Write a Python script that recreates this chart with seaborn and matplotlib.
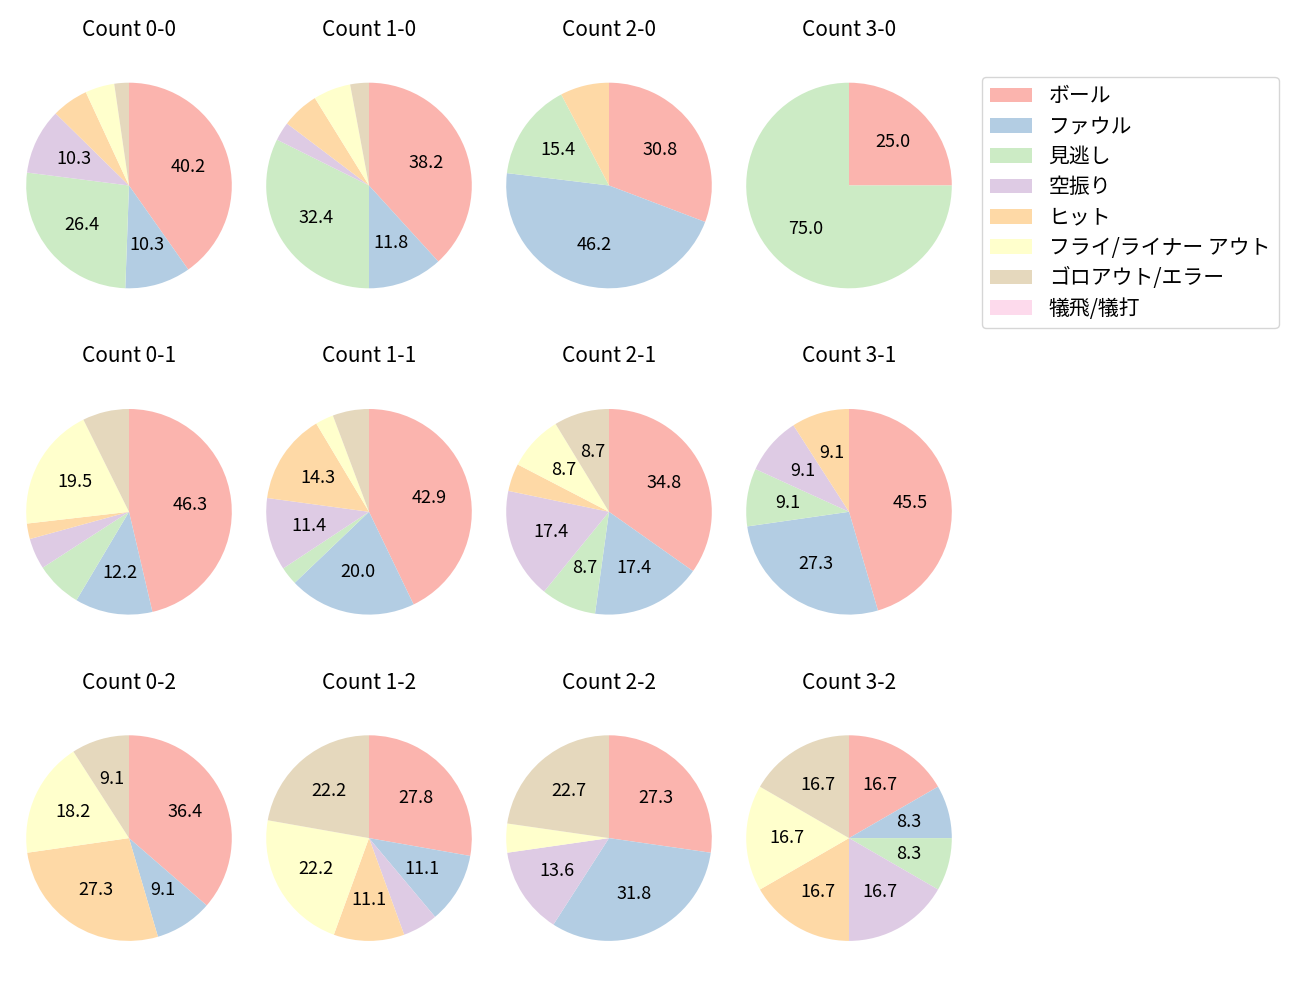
import matplotlib
matplotlib.use("Agg")
import matplotlib.pyplot as plt
import seaborn as sns
from matplotlib.patches import Patch

sns.set_style("white", {"text.color": "black"})
plt.rcParams['font.family'] = ['Noto Sans CJK JP', 'DejaVu Sans']
plt.rcParams['text.color'] = 'black'

categories = ["ボール", "ファウル", "見逃し", "空振り", "ヒット",
              "フライ/ライナー アウト", "ゴロアウト/エラー", "犠飛/犠打"]

titles = ["Count 0-0", "Count 1-0", "Count 2-0", "Count 3-0",
          "Count 0-1", "Count 1-1", "Count 2-1", "Count 3-1",
          "Count 0-2", "Count 1-2", "Count 2-2", "Count 3-2"]

count_0_0 = [35, 9, 23, 9, 5, 4, 2, 0]
count_1_0 = [13, 4, 11, 1, 2, 2, 1, 0]
count_2_0 = [4, 6, 2, 0, 1, 0, 0, 0]
count_3_0 = [1, 0, 3, 0, 0, 0, 0, 0]
count_0_1 = [19, 5, 3, 2, 1, 8, 3, 0]
count_1_1 = [15, 7, 1, 4, 5, 1, 2, 0]
count_2_1 = [8, 4, 2, 4, 1, 2, 2, 0]
count_3_1 = [5, 3, 1, 1, 1, 0, 0, 0]
count_0_2 = [4, 1, 0, 0, 3, 2, 1, 0]
count_1_2 = [5, 2, 0, 1, 2, 4, 4, 0]
count_2_2 = [6, 7, 0, 3, 0, 1, 5, 0]
count_3_2 = [2, 1, 1, 2, 2, 2, 2, 0]

all_counts = [count_0_0, count_1_0, count_2_0, count_3_0,
              count_0_1, count_1_1, count_2_1, count_3_1,
              count_0_2, count_1_2, count_2_2, count_3_2]

colors = sns.color_palette("Pastel1", 8)

W, H = 1300, 1000
fig = plt.figure(figsize=(13, 10), dpi=100)

side = 257
for i, (title, vals) in enumerate(zip(titles, all_counts)):
    r, c = divmod(i, 4)
    cx = 129 + 240 * c
    cy = 185.5 + 326.3 * r
    ax = fig.add_axes([(cx - side / 2) / W, 1 - (cy + side / 2) / H, side / W, side / H])
    idx = [k for k, v in enumerate(vals) if v > 0]
    ax.pie([vals[k] for k in idx], colors=[colors[k] for k in idx],
           startangle=90, counterclock=False,
           autopct=lambda p: f"{p:.1f}" if p >= 8 else "",
           wedgeprops={"linewidth": 0},
           textprops={"fontsize": 13, "color": "black"})
    ax.set_title(title, fontsize=15, pad=15, color="black")

handles = [Patch(facecolor=colors[k], edgecolor="none", label=categories[k])
           for k in range(len(categories))]
fig.legend(handles=handles, loc="upper left", bbox_to_anchor=(982 / W, 1 - 77 / H),
           borderaxespad=0, fontsize=15, labelspacing=0.4, frameon=True,
           labelcolor="black")

fig.savefig("out.png", dpi=100)
